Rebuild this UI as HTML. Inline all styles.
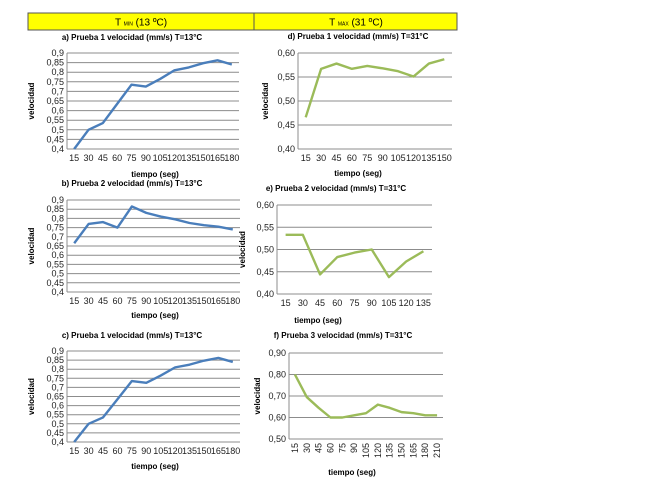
<!DOCTYPE html>
<html><head><meta charset="utf-8"><style>
body{margin:0;background:#fff;width:645px;height:484px;overflow:hidden;font-family:"Liberation Sans",sans-serif}
svg text{font-family:"Liberation Sans",sans-serif}
</style></head><body>
<svg id="s" width="645" height="484">
<g>
<rect x="28" y="13" width="429" height="17" fill="#ffff00" stroke="#555" stroke-width="1"/>
<line x1="254" y1="13" x2="254" y2="30" stroke="#555"/>
<text x="141" y="25.5" font-size="10" text-anchor="middle">T <tspan font-size="5">MIN</tspan> (13 ºC)</text>
<text x="356" y="25.5" font-size="10" text-anchor="middle">T <tspan font-size="5">MAX</tspan> (31 ºC)</text>
</g>
</svg>
<script>
const aCats=[15,30,45,60,75,90,105,120,135,150,165,180];
const aVals=[0.40,0.50,0.535,0.635,0.735,0.725,0.765,0.81,0.825,0.847,0.862,0.84];
const bCats=[15,30,45,60,75,90,105,120,135,150,165,180];
const bVals=[0.665,0.77,0.78,0.75,0.865,0.83,0.81,0.795,0.775,0.763,0.755,0.74];
const cCats=[15,30,45,60,75,90,105,120,135,150,165,180];
const cVals=[0.40,0.50,0.535,0.635,0.735,0.725,0.765,0.81,0.825,0.847,0.862,0.84];
const dCats=[15,30,45,60,75,90,105,120,135,150];
const dVals=[0.466,0.567,0.578,0.567,0.573,0.568,0.562,0.551,0.578,0.587];
const eCats=[15,30,45,60,75,90,105,120,135];
const eVals=[0.533,0.533,0.444,0.483,0.493,0.5,0.438,0.473,0.496];
const fCats=[15,30,45,60,75,90,105,120,135,150,165,180,210];
const fVals=[0.80,0.695,0.645,0.60,0.60,0.61,0.62,0.66,0.645,0.625,0.62,0.61,0.61];
const fineTicks=[0.4,0.45,0.5,0.55,0.6,0.65,0.7,0.75,0.8,0.85,0.9];
const dTicks=[0.40,0.45,0.50,0.55,0.60];
const fTicks=[0.50,0.60,0.70,0.80,0.90];

const NS='http://www.w3.org/2000/svg';
const svg=document.getElementById('s');
function mk(tag,attrs,parent){const e=document.createElementNS(NS,tag);for(const k in attrs)e.setAttribute(k,attrs[k]);(parent||svg).appendChild(e);return e;}
function fmt(v,dec){return (dec<0?String(+v.toFixed(2)):v.toFixed(dec)).replace('.',',');}
function chart(id,o,cats,vals,ticks){
  const g=mk('g',{});
  
  
  const ymin=ticks[0],ymax=ticks[ticks.length-1];
  const y=v=>o.y1+(ymax-v)/(ymax-ymin)*(o.y0-o.y1);
  const step=(o.x1-o.x0)/cats.length;
  const x=i=>o.x0+step*(i+0.5);
  const t=mk('text',{x:o.tx,y:o.ty,'font-size':8,'font-weight':'bold','text-anchor':'middle'},g);
  t.textContent=o.title;
  
  
  ticks.forEach(v=>{
    const l=mk('line',{x1:o.x0,x2:o.x1,y1:y(v),y2:y(v),stroke:'#8c8c8c','stroke-width':1},g);
    
    
    const tl=mk('text',{x:o.x0-3,y:y(v)+3,'font-size':9,'text-anchor':'end',fill:'#222'},g);
    tl.textContent=fmt(v,o.dec);
    
    
  });
  const ax=mk('line',{x1:o.x0,x2:o.x0,y1:o.y1,y2:o.y0,stroke:'#8c8c8c'},g);
  
  
  cats.forEach((c,i)=>{
    let tl;
    if(o.rot){tl=mk('text',{x:0,y:0,'font-size':9,'text-anchor':'end',transform:`translate(${x(i)+3},${o.y0+4}) rotate(-90)`,fill:'#222'},g);}
    else tl=mk('text',{x:x(i),y:o.y0+12,'font-size':9,'text-anchor':'middle',fill:'#222'},g);
    tl.textContent=c;
    
    
  });
  const p=mk('polyline',{points:vals.map((v,i)=>x(i)+','+y(v)).join(' '),fill:'none',stroke:o.color,'stroke-width':2.4,'stroke-linejoin':'round'},g);
  
  
  const yl=mk('text',{x:0,y:0,'font-size':8,'font-weight':'bold','text-anchor':'middle',transform:`translate(${o.ylx},${(o.y0+o.y1)/2}) rotate(-90)`},g);
  yl.textContent='velocidad';
  
  
  const xl=mk('text',{x:o.xlx,y:o.xly,'font-size':8,'font-weight':'bold','text-anchor':'middle'},g);
  xl.textContent='tiempo (seg)';
  
  
}
const blue='#4a7ebb',green='#9bbb59';
chart('chart-a',{x0:67,x1:239,y1:53,y0:149,title:'a) Prueba 1 velocidad  (mm/s) T=13°C',tx:132,ty:40,dec:-1,color:blue,ylx:34,xlx:155,xly:177},aCats,aVals,fineTicks);
chart('chart-b',{x0:67,x1:240,y1:200,y0:292,title:'b) Prueba 2 velocidad  (mm/s) T=13°C',tx:132,ty:186,dec:-1,color:blue,ylx:34,xlx:155,xly:318},bCats,bVals,fineTicks);
chart('chart-c',{x0:67,x1:240,y1:351,y0:442,title:'c) Prueba 1 velocidad  (mm/s) T=13°C',tx:132,ty:338,dec:-1,color:blue,ylx:34,xlx:155,xly:469},cCats,cVals,fineTicks);
chart('chart-d',{x0:298,x1:452,y1:53,y0:149,title:'d) Prueba 1 velocidad  (mm/s) T=31°C',tx:358,ty:39,dec:2,color:green,ylx:268,xlx:358,xly:176},dCats,dVals,dTicks);
chart('chart-e',{x0:277,x1:432,y1:205,y0:294,title:'e) Prueba 2 velocidad  (mm/s) T=31°C',tx:336,ty:191,dec:2,color:green,ylx:245,xlx:318,xly:323},eCats,eVals,dTicks);
chart('chart-f',{x0:289,x1:443,y1:353,y0:439,title:'f) Prueba 3 velocidad  (mm/s) T=31°C',tx:343,ty:338,dec:2,color:green,ylx:260,xlx:352,xly:475,rot:true},fCats,fVals,fTicks);
</script>
</body></html>
